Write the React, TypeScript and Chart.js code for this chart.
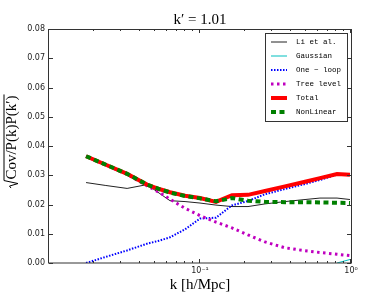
import { useEffect, useRef } from 'react';
import { Chart, registerables } from 'chart.js';

Chart.register(...registerables);

// ---- data ----
const kValues = [0.0176, 0.0238, 0.0329, 0.0446, 0.0543, 0.0633, 0.0796, 0.1, 0.1276, 0.1629, 0.2079, 0.2695, 0.3655, 0.496, 0.623, 0.808, 0.985];
const liEtAl = [0.0275, 0.0265, 0.0255, 0.0268, 0.0237, 0.0213, 0.021, 0.0205, 0.0198, 0.0193, 0.0193, 0.0202, 0.021, 0.0217, 0.0222, 0.0222, 0.0217];
const gaussian = [0, 0, 0, 0, 0, 0, 0, 0, 0, 0, 0, 0, 0, 0, 0, 0, 0.0012];
const oneLoop = [0.0, 0.0021, 0.0043, 0.0066, 0.0077, 0.0088, 0.0115, 0.0152, 0.0155, 0.0197, 0.0212, 0.0235, 0.0253, 0.027, 0.0284, 0.0302, 0.03];
const treeLevel = [0.0365, 0.0335, 0.0303, 0.0264, 0.024, 0.0218, 0.0187, 0.0162, 0.014, 0.012, 0.0096, 0.0072, 0.0052, 0.0042, 0.0036, 0.003, 0.0025];
const total = [0.0365, 0.0336, 0.0305, 0.0268, 0.0252, 0.0242, 0.023, 0.0222, 0.0209, 0.0232, 0.0233, 0.0246, 0.0262, 0.0278, 0.029, 0.0304, 0.0302];
const nonLinear = [0.0365, 0.0336, 0.0305, 0.0268, 0.0252, 0.0241, 0.0229, 0.0221, 0.0211, 0.0222, 0.0213, 0.0209, 0.0208, 0.0208, 0.0207, 0.0206, 0.0205];

const seriesNames = ['Li et al.', 'Gaussian', 'One \u2212 loop', 'Tree level', 'Total', 'NonLinear'];
const seriesValues = [liEtAl, gaussian, oneLoop, treeLevel, total, nonLinear];

const yTickValues = [0, 0.01, 0.02, 0.03, 0.04, 0.05, 0.06, 0.07, 0.08];
const xMajorTicks = [0.01, 0.1, 1];
const xMinorTicks = [0.02, 0.03, 0.04, 0.05, 0.06, 0.07, 0.08, 0.09, 0.2, 0.3, 0.4, 0.5, 0.6, 0.7, 0.8, 0.9];
const xTickLabels = ['', '10\u207B\u00B9', '10\u2070'];

const titleText = 'k\u2032 = 1.01';
const xTitleText = 'k [h/Mpc]';
const yTitleText = 'Cov/P(k)P(k\u2032)';

// ---- styles ----
const seriesStyles = [
  { color: '#222222', width: 1, dash: [] as number[] },
  { color: '#00bfbf', width: 1, dash: [] as number[] },
  { color: '#0000ff', width: 2, dash: [1.5, 1.5] },
  { color: '#bf00bf', width: 3, dash: [2.5, 3.5] },
  { color: '#ff0000', width: 4, dash: [] as number[] },
  { color: '#008000', width: 4, dash: [5, 3.5] },
];

const AXIS_COLOR = '#333333';

const decorPlugin = {
  id: 'decor',
  afterDraw(chart: any) {
    const ctx = chart.ctx as CanvasRenderingContext2D;
    const area = chart.chartArea;
    const xs = chart.scales.x;
    const ys = chart.scales.y;
    ctx.save();

    // spines
    ctx.strokeStyle = AXIS_COLOR;
    ctx.lineWidth = 1;
    ctx.setLineDash([]);
    ctx.strokeRect(Math.round(area.left) - 0.5, Math.round(area.top) + 0.5, Math.round(area.right - area.left) + 1, Math.round(area.bottom - area.top) - 0.5);

    // inward ticks
    ctx.beginPath();
    for (const v of yTickValues) {
      const y = Math.round(ys.getPixelForValue(v)) + 0.5;
      ctx.moveTo(area.left, y); ctx.lineTo(area.left + 4, y);
      ctx.moveTo(area.right, y); ctx.lineTo(area.right - 4, y);
    }
    for (const v of xMajorTicks) {
      const x = Math.round(xs.getPixelForValue(v)) - 0.5;
      ctx.moveTo(x, area.bottom); ctx.lineTo(x, area.bottom - 4);
      ctx.moveTo(x, area.top); ctx.lineTo(x, area.top + 4);
    }
    for (const v of xMinorTicks) {
      const x = Math.round(xs.getPixelForValue(v)) - 0.5;
      ctx.moveTo(x, area.bottom); ctx.lineTo(x, area.bottom - 2);
      ctx.moveTo(x, area.top); ctx.lineTo(x, area.top + 2);
    }
    ctx.stroke();

    // title
    const cx = (area.left + area.right) / 2;
    ctx.fillStyle = '#000';
    ctx.textAlign = 'center';
    ctx.textBaseline = 'alphabetic';
    ctx.font = '15px "Liberation Serif"';
    ctx.fillText(titleText, cx, 24);

    // x title
    ctx.font = '15px "Liberation Serif"';
    ctx.fillText(xTitleText, cx, 289);

    // y title with radical
    ctx.save();
    ctx.font = '15px "Liberation Serif"';
    const cy = (area.top + area.bottom) / 2 - 4;
    ctx.translate(16, cy);
    ctx.rotate(-Math.PI / 2);
    const radW = 9;
    const tw = ctx.measureText(yTitleText).width;
    const totalW = radW + tw;
    const x0 = -totalW / 2;
    const top = -12;
    // radical sign
    ctx.strokeStyle = '#000';
    ctx.lineWidth = 1;
    ctx.beginPath();
    ctx.moveTo(x0 + 0.5, -5);
    ctx.lineTo(x0 + 2.5, -6.5);
    ctx.lineTo(x0 + 5, 2);
    ctx.lineTo(x0 + radW - 1, top);
    ctx.lineTo(x0 + totalW + 1, top);
    ctx.stroke();
    ctx.textAlign = 'left';
    ctx.fillText(yTitleText, x0 + radW, 0);
    ctx.restore();

    // legend
    const lx = 265, ly = 33, lw = 82, lh = 88;
    ctx.fillStyle = '#ffffff';
    ctx.fillRect(lx, ly, lw, lh);
    ctx.strokeStyle = AXIS_COLOR;
    ctx.lineWidth = 1;
    ctx.setLineDash([]);
    ctx.strokeRect(lx + 0.5, ly + 0.5, lw, lh);
    ctx.font = '7.5px "Liberation Mono"';
    ctx.textAlign = 'left';
    ctx.textBaseline = 'middle';
    seriesNames.forEach((name, i) => {
      const st = seriesStyles[i];
      const y = 42 + i * 14;
      ctx.strokeStyle = st.color;
      ctx.lineWidth = st.width;
      ctx.lineCap = 'butt';
      ctx.setLineDash(st.dash);
      ctx.beginPath();
      ctx.moveTo(271, y);
      ctx.lineTo(287, y);
      ctx.stroke();
      ctx.setLineDash([]);
      ctx.fillStyle = '#000';
      ctx.fillText(name, 296, y + 0.5);
    });

    ctx.restore();
  },
};

export default function App() {
  const canvasRef = useRef<HTMLCanvasElement | null>(null);

  useEffect(() => {
    const canvas = canvasRef.current;
    if (!canvas) return;
    const datasets = seriesNames.map((name, i) => {
      const st = seriesStyles[i];
      const ds: any = {
        label: name,
        data: kValues.map((k, j) => ({ x: k, y: seriesValues[i][j] })),
        borderColor: st.color,
        backgroundColor: st.color,
        borderWidth: st.width,
        borderDash: st.dash,
        borderCapStyle: 'butt',
        borderJoinStyle: 'miter',
        pointRadius: 0,
        tension: 0,
        fill: false,
        order: seriesNames.length - i,
      };
      if (i === 1) {
        ds.segment = {
          borderColor: (c: any) => (c.p0.parsed.y === 0 && c.p1.parsed.y === 0 ? 'rgba(0,0,0,0)' : st.color),
        };
      }
      return ds;
    });

    const chart = new Chart(canvas, {
      type: 'line',
      data: { datasets },
      plugins: [decorPlugin],
      options: {
        animation: false,
        responsive: false,
        devicePixelRatio: 1,
        parsing: false as any,
        layout: { padding: { top: 29, right: 39, left: 0, bottom: 0 } },
        plugins: {
          legend: { display: false },
          tooltip: { enabled: false },
          title: { display: false },
        },
        scales: {
          x: {
            type: 'logarithmic',
            min: 0.01,
            max: 1,
            grid: { display: false, drawTicks: false },
            border: { display: false },
            afterFit: (s: any) => { s.height = 30; },
            afterBuildTicks: (s: any) => { s.ticks = xMajorTicks.map((v) => ({ value: v })); },
            ticks: {
              autoSkip: false,
              maxRotation: 0,
              padding: 3,
              color: '#222',
              font: { family: '"DejaVu Sans"', size: 8 },
              callback: (v: any) => {
                const idx = xMajorTicks.findIndex((t) => Math.abs(t - Number(v)) < 1e-9);
                return idx >= 0 ? xTickLabels[idx] : '';
              },
            },
          },
          y: {
            type: 'linear',
            min: 0,
            max: 0.08,
            grid: { display: false, drawTicks: false },
            border: { display: false },
            afterFit: (s: any) => { s.width = 49; },
            afterBuildTicks: (s: any) => { s.ticks = yTickValues.map((v) => ({ value: v })); },
            ticks: {
              padding: 4,
              color: '#222',
              font: { family: '"DejaVu Sans"', size: 8 },
              callback: (v: any) => Number(v).toFixed(2),
            },
          },
        },
      },
    });
    return () => chart.destroy();
  }, []);

  return (
    <div style={{ position: 'fixed', left: 0, top: 0, width: 390, height: 293, background: '#fff' }}>
      <canvas ref={canvasRef} width={390} height={293} style={{ display: 'block', width: 390, height: 293 }} />
    </div>
  );
}
